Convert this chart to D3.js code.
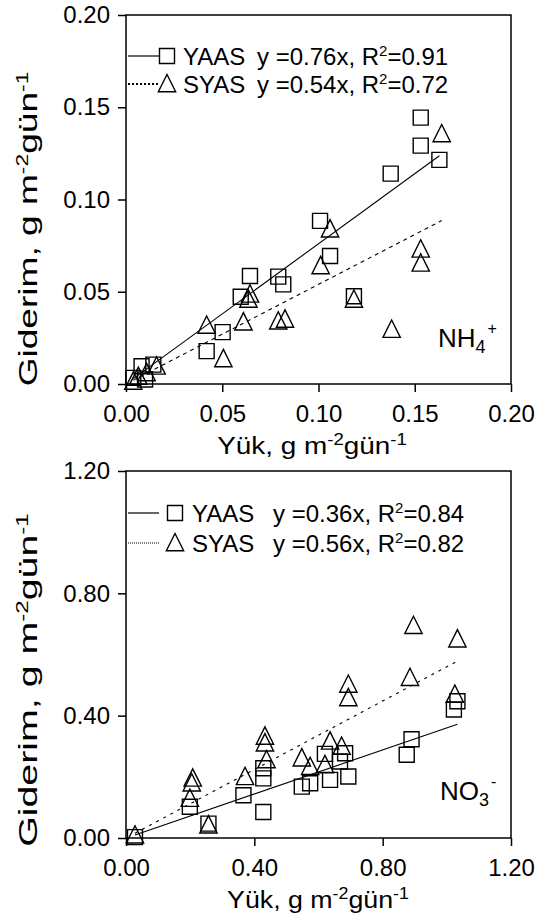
<!DOCTYPE html>
<html>
<head>
<meta charset="utf-8">
<script src="https://cdn.jsdelivr.net/npm/d3@7"></script>
<style>
  body { margin: 0; background: #fff; }
  svg { display: block; }
  text { font-family: "Liberation Sans", Arial, sans-serif; fill: #000; }
  .tick text { font-size: 24px; }
  .tick line { stroke: #000; stroke-width: 1.5; }
</style>
</head>
<body>
<div id="chart"></div>
<script>
// NH4+ panel: [load, removal] pairs, g m-2 gün-1
const nh4Yaas = [
  [0.1008, 0.0884], [0.106, 0.0694], [0.0644, 0.0585], [0.0791, 0.0582],
  [0.0817, 0.054], [0.0596, 0.0473], [0.1184, 0.0476], [0.0502, 0.0281],
  [0.0419, 0.0178], [0.0081, 0.0096], [0.0142, 0.0105], [0.0038, 0.0033],
  [0.0099, 0.0024], [0.1531, 0.1444], [0.1531, 0.1292], [0.1628, 0.1215],
  [0.1375, 0.114]
];
const nh4Syas = [
  [0.164, 0.1355], [0.106, 0.0839], [0.1531, 0.073], [0.1531, 0.0654],
  [0.1011, 0.064], [0.0644, 0.0486], [0.0636, 0.0458], [0.1184, 0.0458],
  [0.061, 0.0335], [0.0419, 0.0317], [0.0791, 0.034], [0.0826, 0.035],
  [0.138, 0.0295], [0.0506, 0.0136], [0.0038, 0.0014], [0.0107, 0.006],
  [0.0159, 0.0096], [0.0064, 0.004]
];
// NO3- panel
const no3Yaas = [
  [1.022, 0.42], [1.033, 0.447], [0.89, 0.323], [0.875, 0.272],
  [0.693, 0.201], [0.683, 0.277], [0.62, 0.275], [0.636, 0.19],
  [0.574, 0.179], [0.548, 0.168], [0.428, 0.195], [0.428, 0.228],
  [0.428, 0.085], [0.366, 0.14], [0.199, 0.102], [0.257, 0.047],
  [0.028, 0.003], [0.667, 0.25]
];
const no3Syas = [
  [0.896, 0.694], [1.033, 0.65], [0.693, 0.502], [0.693, 0.458],
  [0.885, 0.524], [1.025, 0.469], [0.433, 0.332], [0.433, 0.31],
  [0.438, 0.255], [0.636, 0.316], [0.672, 0.299], [0.548, 0.261],
  [0.574, 0.233], [0.62, 0.239], [0.371, 0.2], [0.208, 0.195],
  [0.205, 0.179], [0.199, 0.129], [0.257, 0.042], [0.028, 0.009]
];

const seriesNames = ['YAAS', 'SYAS'];
const nh4Slopes = [0.76, 0.54];
const nh4R2 = ['0.91', '0.72'];
const no3Slopes = [0.36, 0.56];
const no3R2 = ['0.84', '0.82'];
const nh4Ticks = [0, 0.05, 0.10, 0.15, 0.20];
const no3Ticks = [0, 0.40, 0.80, 1.20];

const width = 540, height = 919;
const svg = d3.select('#chart').append('svg')
  .attr('width', width)
  .attr('height', height);

// open triangle marker, a bit taller than equilateral
const triangle = {
  draw(ctx, size) {
    const w = Math.sqrt(size);
    ctx.moveTo(0, -w * 0.55);
    ctx.lineTo(w * 0.5, w * 0.45);
    ctx.lineTo(-w * 0.5, w * 0.45);
    ctx.closePath();
  }
};

function unitText(sel, first) {
  sel.append('tspan').text(first);
  sel.append('tspan').attr('dy', -9).style('font-size', '16px').text('-2');
  sel.append('tspan').attr('dy', 9).text('gün');
  sel.append('tspan').attr('dy', -9).style('font-size', '16px').text('-1');
}

function panel(cfg) {
  const { top, bottom, xMax, ticks, yaas, syas, slopes, r2, ion } = cfg;
  const left = 126, right = 511;

  const x = d3.scaleLinear().domain([0, xMax]).range([left, right]);
  const y = d3.scaleLinear().domain([0, xMax]).range([bottom, top]);
  const g = svg.append('g');

  g.append('g')
    .attr('transform', `translate(0,${bottom})`)
    .call(d3.axisBottom(x).tickValues(ticks).tickFormat(d3.format('.2f'))
      .tickSizeInner(8).tickSizeOuter(0).tickPadding(13))
    .call(a => a.select('.domain').remove());

  g.append('g')
    .attr('transform', `translate(${left},0)`)
    .call(d3.axisLeft(y).tickValues(ticks).tickFormat(d3.format('.2f'))
      .tickSizeInner(8).tickSizeOuter(0).tickPadding(8))
    .call(a => a.select('.domain').remove());

  g.append('rect')
    .attr('x', left).attr('y', top)
    .attr('width', right - left).attr('height', bottom - top)
    .attr('fill', 'none').attr('stroke', '#000').attr('stroke-width', 1.5);

  // fitted lines through origin
  const lineStyles = [null, cfg.dash];
  [yaas, syas].forEach((pts, i) => {
    const ext = d3.extent(pts, d => d[0]);
    g.append('line')
      .attr('x1', x(ext[0])).attr('y1', y(ext[0] * slopes[i]))
      .attr('x2', x(ext[1])).attr('y2', y(ext[1] * slopes[i]))
      .attr('stroke', '#000').attr('stroke-width', 1.1)
      .attr('stroke-dasharray', lineStyles[i]);
  });

  const sq = d3.symbol(d3.symbolSquare, 225);
  const tri = d3.symbol(triangle, 300);

  g.append('g').selectAll('path').data(syas).join('path')
    .attr('d', tri)
    .attr('transform', d => `translate(${x(d[0])},${y(d[1])})`)
    .attr('fill', 'none').attr('stroke', '#000').attr('stroke-width', 1.4);

  g.append('g').selectAll('path').data(yaas).join('path')
    .attr('d', sq)
    .attr('transform', d => `translate(${x(d[0])},${y(d[1])})`)
    .attr('fill', 'none').attr('stroke', '#000').attr('stroke-width', 1.4);

  // legend
  const L = cfg.legend;
  [0, 1].forEach(i => {
    const ly = L.y[i];
    g.append('line')
      .attr('x1', L.x0).attr('x2', L.x1).attr('y1', ly).attr('y2', ly)
      .attr('stroke', '#000')
      .attr('stroke-width', i === 0 ? 1.2 : L.dotW)
      .attr('stroke-dasharray', i === 0 ? null : L.dots);
    g.append('path')
      .attr('d', i === 0 ? sq : tri)
      .attr('transform', `translate(${L.mx},${ly})`)
      .attr('fill', 'none').attr('stroke', '#000').attr('stroke-width', 1.4);
    g.append('text')
      .attr('x', L.tx).attr('y', ly + 9)
      .style('font-size', '24px')
      .text(seriesNames[i]);
    const eq = g.append('text')
      .attr('x', L.ex).attr('y', ly + 9)
      .style('font-size', '24px');
    eq.append('tspan').text(`y =${slopes[i].toFixed(2)}x, R`);
    eq.append('tspan').attr('dy', -9).style('font-size', '15px').text('2');
    eq.append('tspan').attr('dy', 9).text(`=${r2[i]}`);
  });

  // ion label
  const ionT = g.append('text')
    .attr('x', cfg.ionX).attr('y', cfg.ionY)
    .style('font-size', '26px');
  ionT.append('tspan').text(ion[0]);
  ionT.append('tspan').attr('dy', 6).style('font-size', '18px').text(ion[1]);
  ionT.append('tspan').attr('dy', -19).attr('dx', 2).style('font-size', '16px').text(ion[2]);

  // axis titles, stretched like the source
  const xt = g.append('text')
    .style('font-size', '24px')
    .attr('text-anchor', 'middle');
  unitText(xt, 'Yük, g m');
  const xw = xt.node().getBBox().width;
  xt.attr('transform', `translate(${cfg.xTitle.cx},${cfg.xTitle.y}) scale(${cfg.xTitle.len / xw},1)`);

  const yt = g.append('text')
    .style('font-size', '26px')
    .attr('text-anchor', 'middle');
  unitText(yt, 'Giderim, g m');
  const yw = yt.node().getBBox().width;
  yt.attr('transform', `translate(37,${cfg.yTitle.cy}) rotate(-90) scale(${cfg.yTitle.len / yw},1)`);
}

panel({
  top: 15, bottom: 384, xMax: 0.2, ticks: nh4Ticks,
  yaas: nh4Yaas, syas: nh4Syas, slopes: nh4Slopes, r2: nh4R2,
  dash: '4,4', ion: ['NH', '4', '+'], ionX: 438, ionY: 347,
  legend: { y: [56, 84], x0: 128, x1: 159, mx: 167, tx: 183, ex: 257, dots: '2,2', dotW: 2.2 },
  xTitle: { cx: 312, y: 454, len: 190 },
  yTitle: { cy: 229, len: 315 }
});

panel({
  top: 471, bottom: 838, xMax: 1.2, ticks: no3Ticks,
  yaas: no3Yaas, syas: no3Syas, slopes: no3Slopes, r2: no3R2,
  dash: '3,5', ion: ['NO', '3', '-'], ionX: 440, ionY: 800,
  legend: { y: [513, 543], x0: 128, x1: 159, mx: 175, tx: 192, ex: 273, dots: '1,1', dotW: 1 },
  xTitle: { cx: 318, y: 908, len: 182 },
  yTitle: { cy: 680, len: 334 }
});
</script>
</body>
</html>
